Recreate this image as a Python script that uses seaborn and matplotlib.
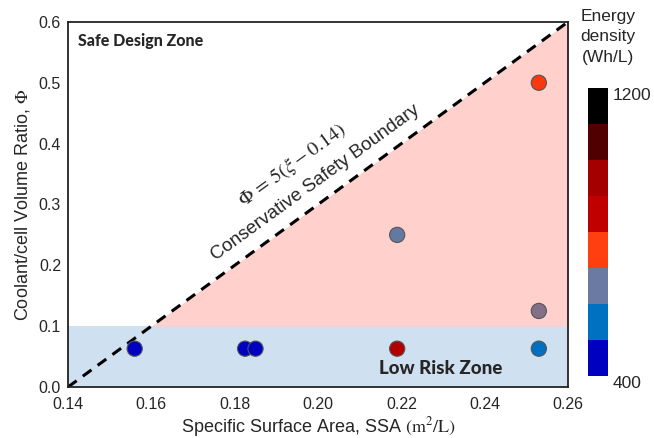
import numpy as np
import pandas as pd
import matplotlib
matplotlib.use('Agg')
import matplotlib.pyplot as plt
import seaborn as sns
from matplotlib.colors import ListedColormap, BoundaryNorm, LinearSegmentedColormap
from matplotlib.ticker import MultipleLocator

# ---- data ----
ssa = [0.156, 0.1825, 0.185, 0.219, 0.253, 0.219, 0.253, 0.253]
phi = [0.063, 0.063, 0.063, 0.063, 0.063, 0.25, 0.125, 0.50]
energy = [420, 420, 420, 900, 550, 645, 668, 760]

band_edges = [400, 500, 600, 700, 800, 900, 1000, 1100, 1200]
band_colors = ['#0000C0', '#0070C0', '#6A7AA0', '#FF3F10',
               '#C00000', '#A50000', '#500000', '#000000']

boundary_slope = 5
boundary_x0 = 0.14
low_risk_phi = 0.1

df = pd.DataFrame({'ssa': ssa, 'phi': phi, 'energy': energy})

sns.set_style('white')
plt.rcParams['font.family'] = ['Liberation Sans', 'DejaVu Sans']
plt.rcParams['mathtext.fontset'] = 'stix'

fig = plt.figure(figsize=(6.54, 4.38), dpi=100)
ax = fig.add_axes([0.104, 0.1164, 0.7645, 0.8336])
cax = fig.add_axes([0.899, 0.142, 0.031, 0.657])

xmin, xmax = 0.14, 0.26
ymin, ymax = 0.0, 0.6

# zones
ax.fill_between([xmin, xmax], ymin, low_risk_phi, color='#CFE0F0', lw=0, zorder=0)
x_cross = boundary_x0 + low_risk_phi / boundary_slope
xb = np.array([x_cross, xmax])
ax.fill_between(xb, low_risk_phi, boundary_slope * (xb - boundary_x0),
                color='#FFD0CC', lw=0, zorder=0)

# boundary line
xl = np.array([xmin, xmax])
ax.plot(xl, boundary_slope * (xl - boundary_x0), color='black', lw=2.2,
        ls=(0, (3.5, 2.5)), zorder=2)

# points coloured by energy density
pos = [(e - band_edges[0]) / (band_edges[-1] - band_edges[0])
       for e in [450, 550, 650, 750, 850, 950, 1050, 1150]]
pos = [0.0] + pos + [1.0]
cols = [band_colors[0]] + band_colors + [band_colors[-1]]
cmap_pts = LinearSegmentedColormap.from_list('ed', list(zip(pos, cols)))
sns.scatterplot(data=df, x='ssa', y='phi', hue='energy', palette=cmap_pts,
                hue_norm=(400, 1200), s=120, edgecolor='#555555', linewidth=0.8,
                legend=False, ax=ax, zorder=3, clip_on=False)

ax.set_xlim(xmin, xmax)
ax.set_ylim(ymin, ymax)
ax.xaxis.set_major_locator(MultipleLocator(0.02))
ax.xaxis.set_minor_locator(MultipleLocator(0.01))
ax.yaxis.set_major_locator(MultipleLocator(0.1))
ax.yaxis.set_minor_locator(MultipleLocator(0.05))
ax.set_xticklabels([f'{v:.2f}' for v in ax.get_xticks()])
ax.set_yticklabels([f'{v:.1f}' for v in ax.get_yticks()])
ax.tick_params(which='both', direction='in', top=False, right=False,
               labelsize=11.5, width=1.2)
ax.tick_params(which='major', length=6)
ax.tick_params(which='minor', length=3.5)
ax.tick_params(axis='x', pad=7)
ax.tick_params(axis='y', pad=5)
for sp in ax.spines.values():
    sp.set_linewidth(1.3)
    sp.set_color('#222222')

ax.set_xlabel(r'Specific Surface Area, SSA $(\mathrm{m}^2/\mathrm{L})$',
              fontsize=13, labelpad=2)
ax.set_ylabel('Coolant/cell Volume Ratio, $\\Phi$', fontsize=13, labelpad=5)

# annotations
ax.text(0.1425, 0.569, 'Safe Design Zone', fontsize=11.5, fontweight='black',
        family='Lato', va='center', ha='left')
ax.text(0.2295, 0.031, 'Low Risk Zone', fontsize=13.5, fontweight='black',
        family='Lato', va='center', ha='center')
ax.text(0.1938, 0.365, r'$\Phi\,=\,5(\xi-0.14)$', fontsize=14.5, rotation=36,
        ha='center', va='center', rotation_mode='anchor')
ax.text(0.1993, 0.336, 'Conservative Safety Boundary', fontsize=13.5,
        rotation=36, ha='center', va='center', rotation_mode='anchor')

# colour bar
cmap_bar = ListedColormap(band_colors)
norm_bar = BoundaryNorm(band_edges, cmap_bar.N)
cb = matplotlib.colorbar.ColorbarBase(cax, cmap=cmap_bar, norm=norm_bar,
                                      ticks=[400, 1200])
cb.outline.set_visible(False)
cax.minorticks_off()
cax.tick_params(which='both', length=0, labelsize=12.5, pad=3)
cax.set_yticklabels(['400', '1200'])
for lab in cax.get_yticklabels():
    lab.set_verticalalignment('top')
fig.text(0.93, 0.98, 'Energy\ndensity\n(Wh/L)', ha='center', va='top',
         fontsize=12.5, linespacing=1.45)

fig.savefig('out.png', dpi=100)
